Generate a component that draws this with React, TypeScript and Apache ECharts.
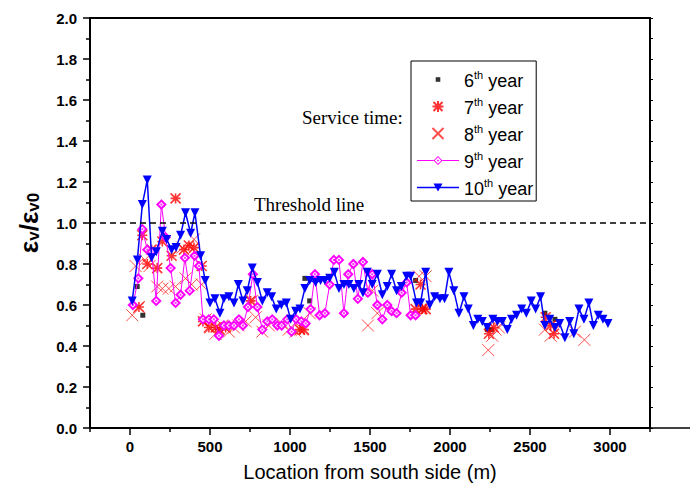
import React, { useEffect, useRef } from "react";
import * as echarts from "echarts";

// Location (m) vs. strain ratio for each service year
const year6: [number, number][] = [
  [45, 0.69], [80, 0.55], [1093, 0.73], [1123, 0.62], [1785, 0.72], [1830, 0.58],
  [2233, 0.48], [2260, 0.48], [2593, 0.56], [2656, 0.53],
];

const year7: [number, number][] = [
  [56, 0.59], [77, 0.94], [108, 0.8], [135, 0.87], [170, 0.78], [202, 0.91], [260, 0.84],
  [285, 1.12], [337, 0.87], [368, 0.89], [400, 0.88], [448, 0.79], [456, 0.52], [493, 0.49],
  [535, 0.49], [560, 0.48], [598, 0.49], [754, 0.62], [1062, 0.48], [1087, 0.48],
  [1785, 0.58], [1816, 0.7], [1827, 0.58], [1848, 0.58], [2243, 0.46], [2274, 0.49],
  [2598, 0.54], [2629, 0.5], [2650, 0.46],
];

const year8: [number, number][] = [
  [14, 0.55], [35, 0.79], [56, 0.59], [93, 0.82], [122, 0.79], [170, 0.69], [202, 0.68],
  [243, 0.68], [285, 0.69], [327, 0.88], [347, 0.73], [385, 0.7], [400, 0.92], [448, 0.7],
  [473, 0.53], [504, 0.49], [535, 0.46], [577, 0.5], [618, 0.47], [650, 0.49], [677, 0.5],
  [723, 0.52], [764, 0.62], [785, 0.54], [827, 0.47], [868, 0.5], [948, 0.51], [993, 0.48],
  [1035, 0.47], [1077, 0.48], [1123, 0.56], [1487, 0.5], [1514, 0.67], [1546, 0.56],
  [1806, 0.74], [1816, 0.58], [1848, 0.74], [2239, 0.38], [2264, 0.45], [2285, 0.48],
  [2306, 0.49], [2593, 0.48], [2629, 0.45], [2660, 0.48], [2781, 0.47], [2840, 0.43],
];

const year9: [number, number][] = [
  [18, 0.6], [52, 0.73], [77, 0.97], [108, 0.87], [135, 0.86], [164, 0.62], [196, 1.09],
  [223, 0.93], [254, 0.78], [285, 0.61], [316, 0.65], [343, 0.83], [373, 0.67], [404, 0.84],
  [431, 0.79], [456, 0.53], [493, 0.53], [524, 0.53], [556, 0.45], [587, 0.5], [618, 0.5],
  [650, 0.5], [681, 0.53], [706, 0.5], [737, 0.59], [768, 0.75], [796, 0.59], [827, 0.48],
  [858, 0.52], [889, 0.53], [921, 0.5], [948, 0.5], [983, 0.53], [1010, 0.47], [1039, 0.53],
  [1071, 0.52], [1098, 0.51], [1129, 0.58], [1156, 0.75], [1185, 0.55], [1218, 0.56],
  [1248, 0.7], [1274, 0.82], [1306, 0.82], [1337, 0.56], [1364, 0.75], [1396, 0.8],
  [1424, 0.63], [1456, 0.81], [1487, 0.66], [1514, 0.75], [1546, 0.6], [1577, 0.53],
  [1608, 0.6], [1635, 0.57], [1666, 0.56], [1698, 0.66], [1729, 0.71], [1754, 0.55],
  [1785, 0.55],
];

const year10: [number, number][] = [
  [14, 0.62], [46, 0.82], [77, 1.09], [108, 1.21], [135, 0.83], [164, 0.86], [202, 0.96],
  [229, 0.92], [260, 0.87], [288, 0.88], [316, 0.94], [347, 1.05], [379, 0.95], [406, 1.05],
  [441, 0.84], [470, 0.72], [500, 0.61], [531, 0.63], [562, 0.56], [587, 0.63], [618, 0.64],
  [650, 0.61], [677, 0.7], [706, 0.62], [733, 0.67], [764, 0.78], [796, 0.71], [827, 0.62],
  [858, 0.66], [885, 0.64], [914, 0.58], [946, 0.6], [977, 0.61], [1004, 0.53], [1035, 0.57],
  [1062, 0.58], [1093, 0.68], [1123, 0.72], [1160, 0.71], [1191, 0.72], [1218, 0.72],
  [1248, 0.73], [1277, 0.76], [1306, 0.68], [1337, 0.7], [1368, 0.7], [1399, 0.68],
  [1431, 0.7], [1456, 0.66], [1483, 0.76], [1514, 0.7], [1546, 0.75], [1577, 0.65],
  [1608, 0.69], [1635, 0.75], [1666, 0.67], [1696, 0.69], [1729, 0.74], [1754, 0.74],
  [1791, 0.61], [1816, 0.61], [1848, 0.76], [1874, 0.6], [1904, 0.64], [1937, 0.63],
  [1966, 0.63], [1993, 0.76], [2024, 0.67], [2056, 0.56], [2087, 0.64], [2114, 0.58],
  [2146, 0.5], [2174, 0.53], [2202, 0.52], [2233, 0.49], [2268, 0.53], [2296, 0.52],
  [2327, 0.52], [2358, 0.48], [2385, 0.53], [2416, 0.55], [2448, 0.58], [2477, 0.56],
  [2508, 0.62], [2535, 0.58], [2566, 0.64], [2593, 0.5], [2623, 0.53], [2656, 0.49],
  [2685, 0.51], [2718, 0.44], [2748, 0.52], [2774, 0.46], [2806, 0.58], [2837, 0.53],
  [2868, 0.61], [2896, 0.5], [2927, 0.55], [2956, 0.53], [2987, 0.51],
];

const seriesNames = ["6", "7", "8", "9", "10"];
const xMajorTicks = [0, 500, 1000, 1500, 2000, 2500, 3000];
const xMinorTicks = [-250, 250, 750, 1250, 1750, 2250, 2750, 3250];
const thresholdValue = 1.0;

const SANS = "'Liberation Sans', Arial, sans-serif";
const SERIF = "'Liberation Serif', 'Times New Roman', serif";

// marker shapes
const ASTERISK = "path://M0,0L10,10M10,0L0,10M5,0L5,10M0,5L10,5";
const CROSS = "path://M0,0L10,10M10,0L0,10";
const TRI_DOWN = "path://M0,0L10,0L5,9Z";

// legend icons drawn in a 42x14 box (the leading moves fix the box size)
const LEG_SQUARE = "path://M0,0M42,14M18.7,4.7L23.3,4.7L23.3,9.3L18.7,9.3Z";
const LEG_ASTERISK = "path://M0,0M42,14M16.5,2.5L25.5,11.5M25.5,2.5L16.5,11.5M21,1.5L21,12.5M15.5,7L26.5,7";
const LEG_CROSS = "path://M0,0M42,14M15.5,1.5L26.5,12.5M26.5,1.5L15.5,12.5";
// line + hollow diamond with a centre dot (outer clockwise, inner counter-clockwise)
const LEG_LINE_DIAMOND =
  "path://M0,0M42,14M0,6.5L16.5,6.5L16.5,7.5L0,7.5ZM25.5,6.5L42,6.5L42,7.5L25.5,7.5Z" +
  "M21,2.5L25.5,7L21,11.5L16.5,7ZM21,3.8L17.8,7L21,10.2L24.2,7Z" +
  "M20.2,6.2L21.8,6.2L21.8,7.8L20.2,7.8Z";
const LEG_LINE_TRI = "path://M0,0M42,14M0,6.3L42,6.3L42,7.7L0,7.7ZM16.5,3L25.5,3L21,11Z";

export default function App() {
  const ref = useRef<HTMLDivElement>(null);

  useEffect(() => {
    const chart = echarts.init(ref.current!, null, { renderer: "svg" });
    const axisColor = "#000";

    chart.setOption({
      animation: false,
      backgroundColor: "#fff",
      grid: { left: 90, top: 18, right: 40, bottom: 64, containLabel: false },
      legend: {
        orient: "vertical",
        left: 411,
        top: 61,
        padding: [8, 3, 3, 5],
        borderColor: "#000",
        borderWidth: 1,
        itemWidth: 42,
        itemHeight: 14,
        itemGap: 6,
        selectedMode: false,
        data: [
          { name: "6", icon: LEG_SQUARE },
          { name: "7", icon: LEG_ASTERISK },
          { name: "8", icon: LEG_CROSS },
          { name: "9", icon: LEG_LINE_DIAMOND, itemStyle: { borderWidth: 0, color: "#ff00ff" } },
          { name: "10", icon: LEG_LINE_TRI, itemStyle: { borderWidth: 0, color: "#0000ff" } },
        ],
        formatter: (n: string) => `{n|${n}}{s|th}{n| year}`,
        textStyle: {
          fontFamily: SANS,
          color: "#000",
          rich: {
            n: { fontFamily: SANS, fontSize: 18, lineHeight: 21, color: "#000", verticalAlign: "bottom" },
            s: { fontFamily: SANS, fontSize: 11, lineHeight: 11, color: "#000", verticalAlign: "top" },
          },
        },
      },
      xAxis: [
        {
          type: "value",
          min: -250,
          max: 3250,
          interval: 250,
          position: "bottom",
          axisLine: { show: true, onZero: false, lineStyle: { color: axisColor, width: 2 } },
          axisTick: { show: true, length: 7, customValues: xMajorTicks, lineStyle: { color: axisColor, width: 1.5 } },
          axisLabel: {
            customValues: xMajorTicks,
            formatter: (v: number) => String(v),
            color: "#000",
            fontFamily: SANS,
            fontSize: 15,
            fontWeight: "bold",
            margin: 11,
          },
          splitLine: { show: false },
          name: "Location from south side (m)",
          nameLocation: "middle",
          nameGap: 34,
          nameTextStyle: { fontFamily: SANS, fontSize: 20, color: "#000" },
        },
        {
          type: "value",
          min: -250,
          max: 3250,
          interval: 250,
          position: "bottom",
          axisLine: { show: false, onZero: false },
          axisTick: { show: true, length: 4, customValues: xMinorTicks, lineStyle: { color: axisColor, width: 1.5 } },
          axisLabel: { show: false },
          splitLine: { show: false },
        },
        {
          type: "value",
          min: -250,
          max: 3250,
          position: "top",
          axisLine: { show: true, onZero: false, lineStyle: { color: axisColor, width: 2 } },
          axisTick: { show: false },
          axisLabel: { show: false },
          splitLine: { show: false },
        },
      ],
      yAxis: [
        {
          type: "value",
          min: 0,
          max: 2,
          interval: 0.2,
          position: "left",
          axisLine: { show: true, onZero: false, lineStyle: { color: axisColor, width: 2 } },
          axisTick: { show: true, length: 7, lineStyle: { color: axisColor, width: 1.5 } },
          minorTick: { show: true, splitNumber: 2, length: 4, lineStyle: { color: axisColor, width: 1.5 } },
          axisLabel: {
            formatter: (v: number) => v.toFixed(1),
            color: "#000",
            fontFamily: SANS,
            fontSize: 15,
            fontWeight: "bold",
            margin: 13,
          },
          splitLine: { show: false },
          name: "{a|ε}{b|v}{a|/ε}{b|v0}",
          nameLocation: "middle",
          nameRotate: 90,
          nameGap: 48,
          nameTextStyle: {
            rich: {
              a: { fontFamily: SANS, fontSize: 26, fontWeight: "bold", lineHeight: 26, color: "#000", verticalAlign: "top" },
              b: { fontFamily: SANS, fontSize: 17, fontWeight: "bold", lineHeight: 17, color: "#000", verticalAlign: "bottom", padding: [16, 0, 0, 0] },
            },
          },
        },
        {
          type: "value",
          min: 0,
          max: 2,
          interval: 0.1,
          position: "right",
          axisLine: { show: true, onZero: false, lineStyle: { color: axisColor, width: 2 } },
          axisTick: { show: true, length: 3, lineStyle: { color: axisColor, width: 1 } },
          axisLabel: { show: false },
          splitLine: { show: false },
        },
      ],
      graphic: [
        {
          type: "line",
          shape: { x1: 650, y1: 428, x2: 690, y2: 428 },
          style: { stroke: "#000", lineWidth: 1.5 },
        },
        {
          type: "text",
          left: 302,
          top: 108,
          style: { text: "Service time:", font: `19px ${SERIF}`, fill: "#000" },
        },
        {
          type: "text",
          left: 254,
          top: 195,
          style: { text: "Threshold line", font: `19px ${SERIF}`, fill: "#000" },
        },
      ],
      series: [
        {
          name: seriesNames[0],
          type: "scatter",
          data: year6,
          symbol: "rect",
          symbolSize: 5,
          itemStyle: { color: "#000" },
          markLine: {
            silent: true,
            symbol: "none",
            label: { show: false },
            lineStyle: { color: "#000", type: [6, 4], width: 1.5 },
            data: [{ yAxis: thresholdValue }],
          },
        },
        {
          name: seriesNames[1],
          type: "scatter",
          data: year7,
          symbol: ASTERISK,
          symbolSize: 10,
          itemStyle: { color: "rgba(0,0,0,0)", borderColor: "#ff0000", borderWidth: 1.6 },
        },
        {
          name: seriesNames[2],
          type: "scatter",
          data: year8,
          symbol: CROSS,
          symbolSize: 12,
          itemStyle: { color: "rgba(0,0,0,0)", borderColor: "#ff2020", borderWidth: 1 },
        },
        {
          name: seriesNames[3],
          type: "line",
          data: year9,
          symbol: "emptyDiamond",
          symbolSize: 8,
          lineStyle: { color: "#ff00ff", width: 1 },
          itemStyle: { color: "#ff00ff", borderColor: "#ff00ff", borderWidth: 1 },
        },
        {
          // centre dots of the 9th-year diamonds
          name: "9-centre",
          type: "scatter",
          data: year9,
          symbol: "rect",
          symbolSize: 2,
          silent: true,
          itemStyle: { color: "#ff00ff" },
          z: 3,
        },
        {
          name: seriesNames[4],
          type: "line",
          data: year10,
          symbol: TRI_DOWN,
          symbolSize: 9,
          lineStyle: { color: "#0000ff", width: 1.5 },
          itemStyle: { color: "#0000ff" },
          z: 4,
        },
      ],
    });

    return () => chart.dispose();
  }, []);

  return <div ref={ref} style={{ position: "absolute", left: 0, top: 0, width: 690, height: 492 }} />;
}
